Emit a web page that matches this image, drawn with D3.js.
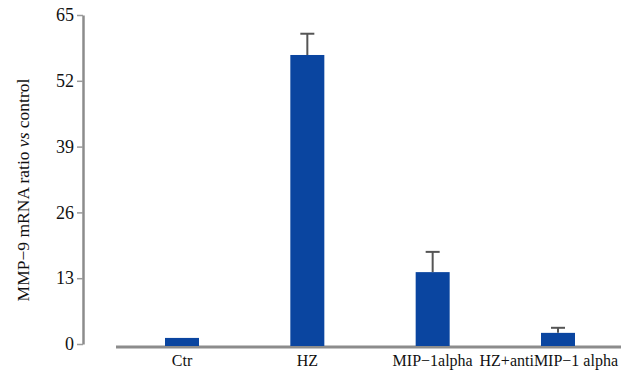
<!DOCTYPE html>
<html><head><meta charset="utf-8">
<script src="https://cdn.jsdelivr.net/npm/d3@7"></script>
<style>body{margin:0;background:#fff}svg{display:block}</style>
</head><body>
<script>
const categories = ["Ctr", "HZ", "MIP\u22121alpha", "HZ+antiMIP\u22121 alpha"];
const values = [1.2, 57.1, 14.2, 2.2];
const errors = [0, 4.2, 4.0, 1.0];
const yTicks = [0, 13, 26, 39, 52, 65];

const W = 621, H = 378;
const svg = d3.select("body").append("svg").attr("width", W).attr("height", H);
const font = "'Liberation Serif','Times New Roman',serif";

const x = d3.scalePoint().domain(categories).range([182, 558]);
const y = d3.scaleLinear().domain([0, 65]).range([344, 15]);
const barW = 34;
const baseY = 347;

// y axis
const yAxis = svg.append("g").attr("transform", "translate(83,0)")
  .call(d3.axisLeft(y).tickValues(yTicks).tickSize(6).tickSizeOuter(0).tickPadding(3));
yAxis.select(".domain").attr("stroke", "#8c8c8c").attr("stroke-width", 2.5);
yAxis.selectAll(".tick line").attr("stroke", "#9a9a9a").attr("stroke-width", 1.5);
yAxis.selectAll(".tick text").attr("font-family", font).attr("font-size", 18).attr("fill", "#111");

// x baseline
svg.append("line").attr("x1", 116).attr("x2", W).attr("y1", baseY).attr("y2", baseY)
  .attr("stroke", "#8c8c8c").attr("stroke-width", 3);

// bars
svg.selectAll("rect.bar").data(categories).join("rect").attr("class", "bar")
  .attr("x", d => x(d) - barW / 2)
  .attr("width", barW)
  .attr("y", (d, i) => y(values[i]))
  .attr("height", (d, i) => baseY - 1 - y(values[i]))
  .attr("fill", "#0a45a0");

// error bars
const eb = svg.append("g");
categories.forEach((c, i) => {
  if (!errors[i]) return;
  const cx = x(c), top = y(values[i] + errors[i]);
  eb.append("line").attr("x1", cx).attr("x2", cx).attr("y1", y(values[i])).attr("y2", top)
    .attr("stroke", "#555").attr("stroke-width", 2);
  eb.append("line").attr("x1", cx - 7).attr("x2", cx + 7).attr("y1", top).attr("y2", top)
    .attr("stroke", "#555").attr("stroke-width", 2);
});

// x labels, centered under bars, pushed left to fit the frame
const labels = svg.append("g").selectAll("text").data(categories).join("text")
  .attr("font-family", font).attr("font-size", 16).attr("fill", "#111")
  .attr("y", 366).attr("text-anchor", "start").text(d => d);
const widths = [];
labels.each(function () { widths.push(this.getComputedTextLength()); });
const lefts = categories.map((c, i) => x(c) - widths[i] / 2);
let limit = 618;
for (let i = categories.length - 1; i >= 0; i--) {
  if (lefts[i] + widths[i] > limit) lefts[i] = limit - widths[i];
  limit = lefts[i] - 6;
}
labels.attr("x", (d, i) => lefts[i]);

// y title
const t = svg.append("text").attr("transform", "translate(29,190) rotate(-90)")
  .attr("text-anchor", "middle").attr("font-family", font).attr("font-size", 17.5).attr("fill", "#111");
t.append("tspan").text("MMP\u22129 mRNA ratio ");
t.append("tspan").attr("font-style", "italic").text("vs");
t.append("tspan").text(" control");
</script>
</body></html>
